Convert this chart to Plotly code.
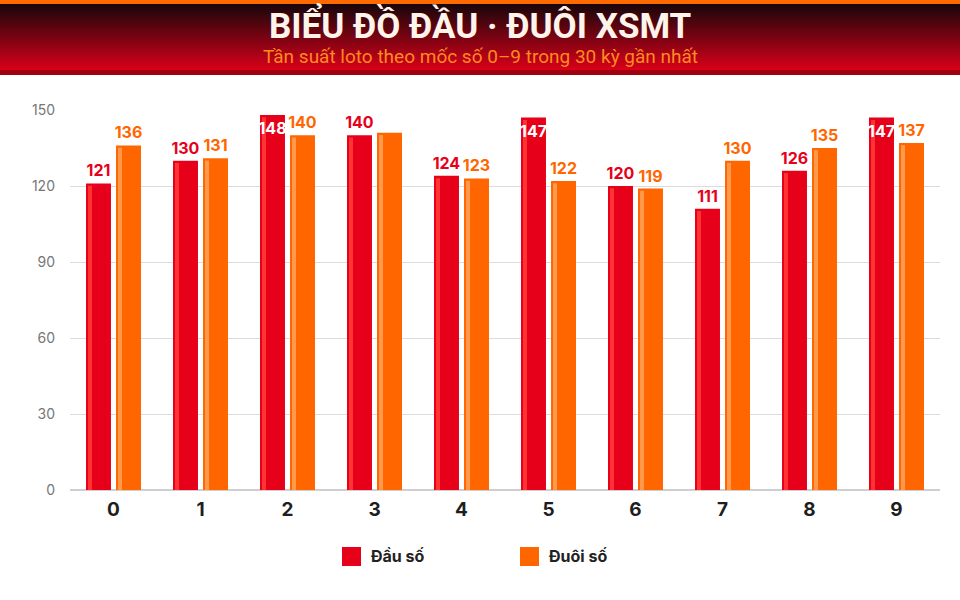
import plotly.graph_objects as go

# data
digits = ["0", "1", "2", "3", "4", "5", "6", "7", "8", "9"]
dau_so = [121, 130, 148, 140, 124, 147, 120, 111, 126, 147]
duoi_so = [136, 131, 140, 141, 123, 122, 119, 130, 135, 137]
dau_labels = ["121", "130", "148", "140", "124", "147", "120", "111", "126", "147"]
duoi_labels = ["136", "131", "140", "", "123", "122", "119", "130", "135", "137"]
y_ticks = [0, 30, 60, 90, 120, 150]

RED = "#e6001a"
RED_HI = "#ff3333"
ORANGE = "#ff6600"
ORANGE_HI = "#ff9a4d"

W, H = 960, 600
M_L, M_R, M_T, M_B = 70, 20, 110, 110
PW, PH = W - M_L - M_R, H - M_T - M_B


def px(sx):
    return (sx - M_L) / PW


def py(sy):
    return (H - M_B - sy) / PH


def label_pos(vals):
    return ["inside" if v >= 145 else "outside" for v in vals]


series = [
    ("Đầu số", dau_so, dau_labels, RED, RED_HI, -0.316, -0.293),
    ("Đuôi số", duoi_so, duoi_labels, ORANGE, ORANGE_HI, 0.029, 0.052),
]

fig = go.Figure()

# main bars
for name, vals, labels, color, hi, off, hi_off in series:
    fig.add_trace(go.Bar(
        x=digits, y=vals, name=name,
        marker=dict(color=color, line=dict(width=0)),
        offset=off, width=0.287,
        showlegend=False, hoverinfo="skip",
    ))

# light highlight stripe on the left of each bar
for name, vals, labels, color, hi, off, hi_off in series:
    fig.add_trace(go.Bar(
        x=digits, y=[v - 0.9 for v in vals],
        marker=dict(color=hi, line=dict(width=0)),
        offset=hi_off, width=0.046,
        showlegend=False, hoverinfo="skip",
    ))

# value labels on a transparent copy so they sit above the stripes
for name, vals, labels, color, hi, off, hi_off in series:
    fig.add_trace(go.Bar(
        x=digits, y=vals,
        marker=dict(color="rgba(0,0,0,0)", line=dict(width=0)),
        offset=off, width=0.287,
        text=labels,
        textposition=label_pos(vals),
        insidetextanchor="end",
        textangle=0,
        constraintext="none",
        cliponaxis=False,
        insidetextfont=dict(family="Inter", size=16, color="white", weight=700),
        outsidetextfont=dict(family="Inter", size=16, color=color, weight=700),
        showlegend=False, hoverinfo="skip",
    ))

shapes = []
# header background: orange top line, dark-to-red gradient, red bottom line
shapes.append(dict(type="rect", xref="paper", yref="paper",
                   x0=px(0), x1=px(W), y0=py(4), y1=py(0),
                   fillcolor="#ff6a00", line_width=0, layer="below"))
c0, c1 = (26, 6, 10), (214, 0, 26)
band_top, band_bot = 4, 70
steps = 33
for i in range(steps):
    t = i / (steps - 1)
    col = "rgb(%d,%d,%d)" % tuple(round(a + (b - a) * t) for a, b in zip(c0, c1))
    y_a = band_top + (band_bot - band_top) * i / steps
    y_b = band_top + (band_bot - band_top) * (i + 1) / steps
    shapes.append(dict(type="rect", xref="paper", yref="paper",
                       x0=px(0), x1=px(W), y0=py(y_b + 0.5), y1=py(y_a),
                       fillcolor=col, line_width=0, layer="below"))
shapes.append(dict(type="rect", xref="paper", yref="paper",
                   x0=px(0), x1=px(W), y0=py(75), y1=py(70),
                   fillcolor="#a3000f", line_width=0, layer="below"))

# legend squares
legend_items = [("Đầu số", RED, 342), ("Đuôi số", ORANGE, 520)]
for _, color, lx in legend_items:
    shapes.append(dict(type="rect", xref="paper", yref="paper",
                       x0=px(lx), x1=px(lx + 19), y0=py(566), y1=py(547),
                       fillcolor=color, line_width=0))

annotations = [
    dict(text="BIỂU ĐỒ ĐẦU · ĐUÔI XSMT", xref="paper", yref="paper",
         x=px(480), y=py(25), showarrow=False, xanchor="center", yanchor="middle",
         font=dict(family="Roboto", size=35, color="#fff4ea", weight=700)),
    dict(text="Tần suất loto theo mốc số 0–9 trong 30 kỳ gần nhất", xref="paper", yref="paper",
         x=px(480), y=py(56), showarrow=False, xanchor="center", yanchor="middle",
         font=dict(family="Roboto", size=19, color="#ff8a1f")),
]
for name, _, lx in legend_items:
    annotations.append(dict(text=name, xref="paper", yref="paper",
                            x=px(lx + 27), y=py(556), showarrow=False,
                            xanchor="left", yanchor="middle",
                            font=dict(family="Inter", size=16, color="#222222", weight=700)))

fig.update_layout(
    width=W, height=H,
    margin=dict(l=M_L, r=M_R, t=M_T, b=M_B),
    barmode="overlay",
    plot_bgcolor="white",
    paper_bgcolor="white",
    showlegend=False,
    shapes=shapes,
    annotations=annotations,
    xaxis=dict(
        type="category", range=[-0.5, 9.5], showgrid=False, zeroline=False,
        tickfont=dict(family="Inter", size=19, color="#1e1e1e", weight=700),
        ticklabelstandoff=6, fixedrange=True,
    ),
    yaxis=dict(
        range=[0, 150], tickvals=y_ticks, showgrid=True, gridcolor="#dcdcdc",
        gridwidth=1, zeroline=True, zerolinecolor="#cfcfcf", zerolinewidth=1.5,
        tickfont=dict(family="Inter", size=14, color="#777777"),
        ticklabelstandoff=14, fixedrange=True,
    ),
)

fig.write_html("out.html", config={"displayModeBar": False},
               post_script="document.body.style.margin='0';")
